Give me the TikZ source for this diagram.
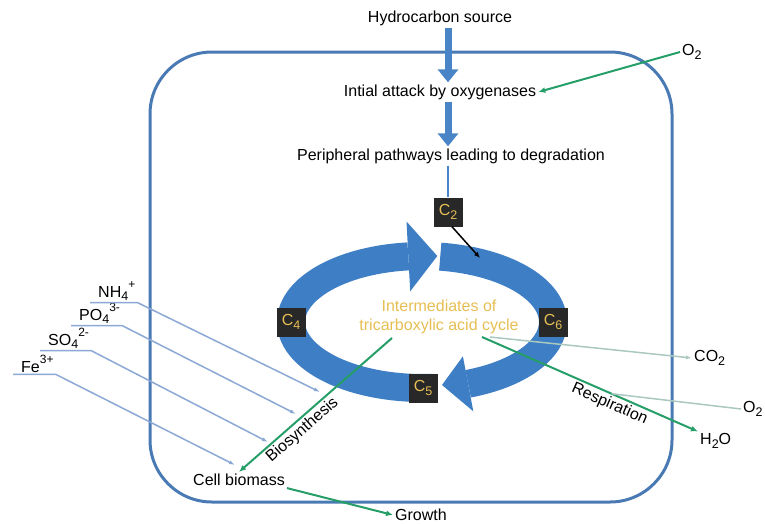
\documentclass[tikz,border=0pt]{standalone}
\usepackage{fontspec}
\setmainfont{Liberation Sans}
\usetikzlibrary{arrows.meta, positioning}

\definecolor{cellblue}{RGB}{74,122,180}
\definecolor{ringblue}{RGB}{62,126,196}
\definecolor{feedblue}{RGB}{72,132,198}
\definecolor{salt}{RGB}{140,168,212}
\definecolor{resp}{RGB}{38,158,104}
\definecolor{gas}{RGB}{170,200,192}
\definecolor{boxdark}{RGB}{40,40,40}
\definecolor{cgold}{RGB}{230,190,84}

\newcommand\lo[1]{\raisebox{-0.4ex}{\fontsize{12.5}{13}\selectfont #1}}
\newcommand\hi[1]{\raisebox{0.95ex}{\fontsize{12}{13}\selectfont #1}}

\tikzset{
  lbl/.style={font=\fontsize{16}{19}\selectfont, inner sep=2pt},
  cbox/.style={lbl, fill=boxdark, text=cgold, minimum size=29, inner sep=0pt},
  feed/.style={line width=7, draw=feedblue, -{Triangle[width=20pt,length=13pt]}},
  ring/.style={line width=28, draw=ringblue},
  flow/.style={draw=resp, line width=2, -{Latex[length=7pt,width=6pt]}},
  salts/.style={draw=salt, line width=1.5, -{Latex[length=6pt,width=4pt]}},
  gasline/.style={draw=gas, line width=1.5}
}

\begin{document}
\begin{tikzpicture}[x=1pt, y=-1pt]
\useasboundingbox (0,0) rectangle (765,523);
% the cell
\draw[cellblue, line width=3, rounded corners=62] (150,52) rectangle (672,502);
% the cycle
\draw[ring] plot[domain=85:264, samples=60] ({422+131*cos(\x)}, {322+66*sin(\x)});
\draw[ring] plot[domain=278:429.4, samples=60] ({422+131*cos(\x)}, {322+66*sin(\x)});
\fill[ringblue] (406.5,221.5) -- (410.2,291.3) -- (437.3,256) -- cycle;
\fill[ringblue] (462.9,356.3) -- (473.3,411.3) -- (442,385) -- cycle;

\node[lbl] (hydro) at (440,18) {Hydrocarbon source};
\node[lbl] (attack) at (440,92) {Intial attack by oxygenases};
\node[lbl] (periph) at (451,156) {Peripheral pathways leading to degradation};
\node[cbox] (c2) at (448,212) {C\lo{2}};
\node[cbox] (c4) at (291,322) {C\lo{4}};
\node[cbox] (c6) at (553,322) {C\lo{6}};
\node[cbox] (c5) at (423,388) {C\lo{5}};
\node[lbl, text=cgold, align=center] (tca) at (439,317) {Intermediates of\\tricarboxylic acid cycle};
\node[lbl] (bio) at (239,480) {Cell biomass};
\node[lbl] (grow) at (421,515) {Growth};
\node[lbl, anchor=west] (o2a) at (680,52) {O\lo{2}};
\node[lbl, anchor=west] (co2) at (692,358) {CO\lo{2}};
\node[lbl, anchor=west] (o2b) at (741,409) {O\lo{2}};
\node[lbl, anchor=west] (h2o) at (698,441) {H\lo{2}O};
\node[lbl, anchor=base west] (nh) at (96,297) {NH\lo{4}\hi{+}};
\node[lbl, anchor=base west] (po) at (77,320) {PO\lo{4}\hi{3-}};
\node[lbl, anchor=base west] (so) at (46,345) {SO\lo{4}\hi{2-}};
\node[lbl, anchor=base west] (fe) at (19,372) {Fe\hi{3+}};

\coordinate (c2in) at (480,258);
\coordinate (bs) at (392,338);
\coordinate (rs) at (482,337);
\coordinate (cs) at (490,337);
\coordinate (nhend) at (320,392);
\coordinate (poend) at (296,414);
\coordinate (soend) at (268,442);
\coordinate (feend) at (235,465);

% feeding chain
\draw[feed] (hydro.south -| c2.north) -- (attack.north -| c2.north);
\draw[feed] (attack.south -| c2.north) -- (periph.north -| c2.north);
\draw[feedblue, line width=1.5] (periph.south -| c2.north) -- (c2.north);
\draw[line width=1.5, -{Latex[length=6pt,width=5pt]}] ([xshift=4pt]c2.south) -- (c2in);

% nutrients
\draw[salts] ([xshift=-6pt]nh.south west) -- (nh.south east) -- (nhend);
\draw[salts] ([xshift=-6pt]po.south west) -- (po.south east) -- (poend);
\draw[salts] ([xshift=-6pt]so.south west) -- (so.south east) -- (soend);
\draw[salts] ([xshift=-6pt]fe.south west) -- (fe.south east) -- (feend);

% gases and products
\draw[gasline, -{Latex[length=6pt,width=4pt]}] (cs) -- (co2.west);
\draw[flow] (o2a.west) -- (attack.east);
\draw[flow] (bs) -- node[lbl, sloped, below, pos=.63]{Biosynthesis} (bio.north);
\draw[flow] (bio.south east) -- (grow.west);
\draw[flow] (rs) -- node[lbl, sloped, below, pos=.61]{Respiration} coordinate[pos=.6] (rmid) (h2o.north west);
\draw[gasline] (o2b.west) -- (rmid);
\end{tikzpicture}
\end{document}
